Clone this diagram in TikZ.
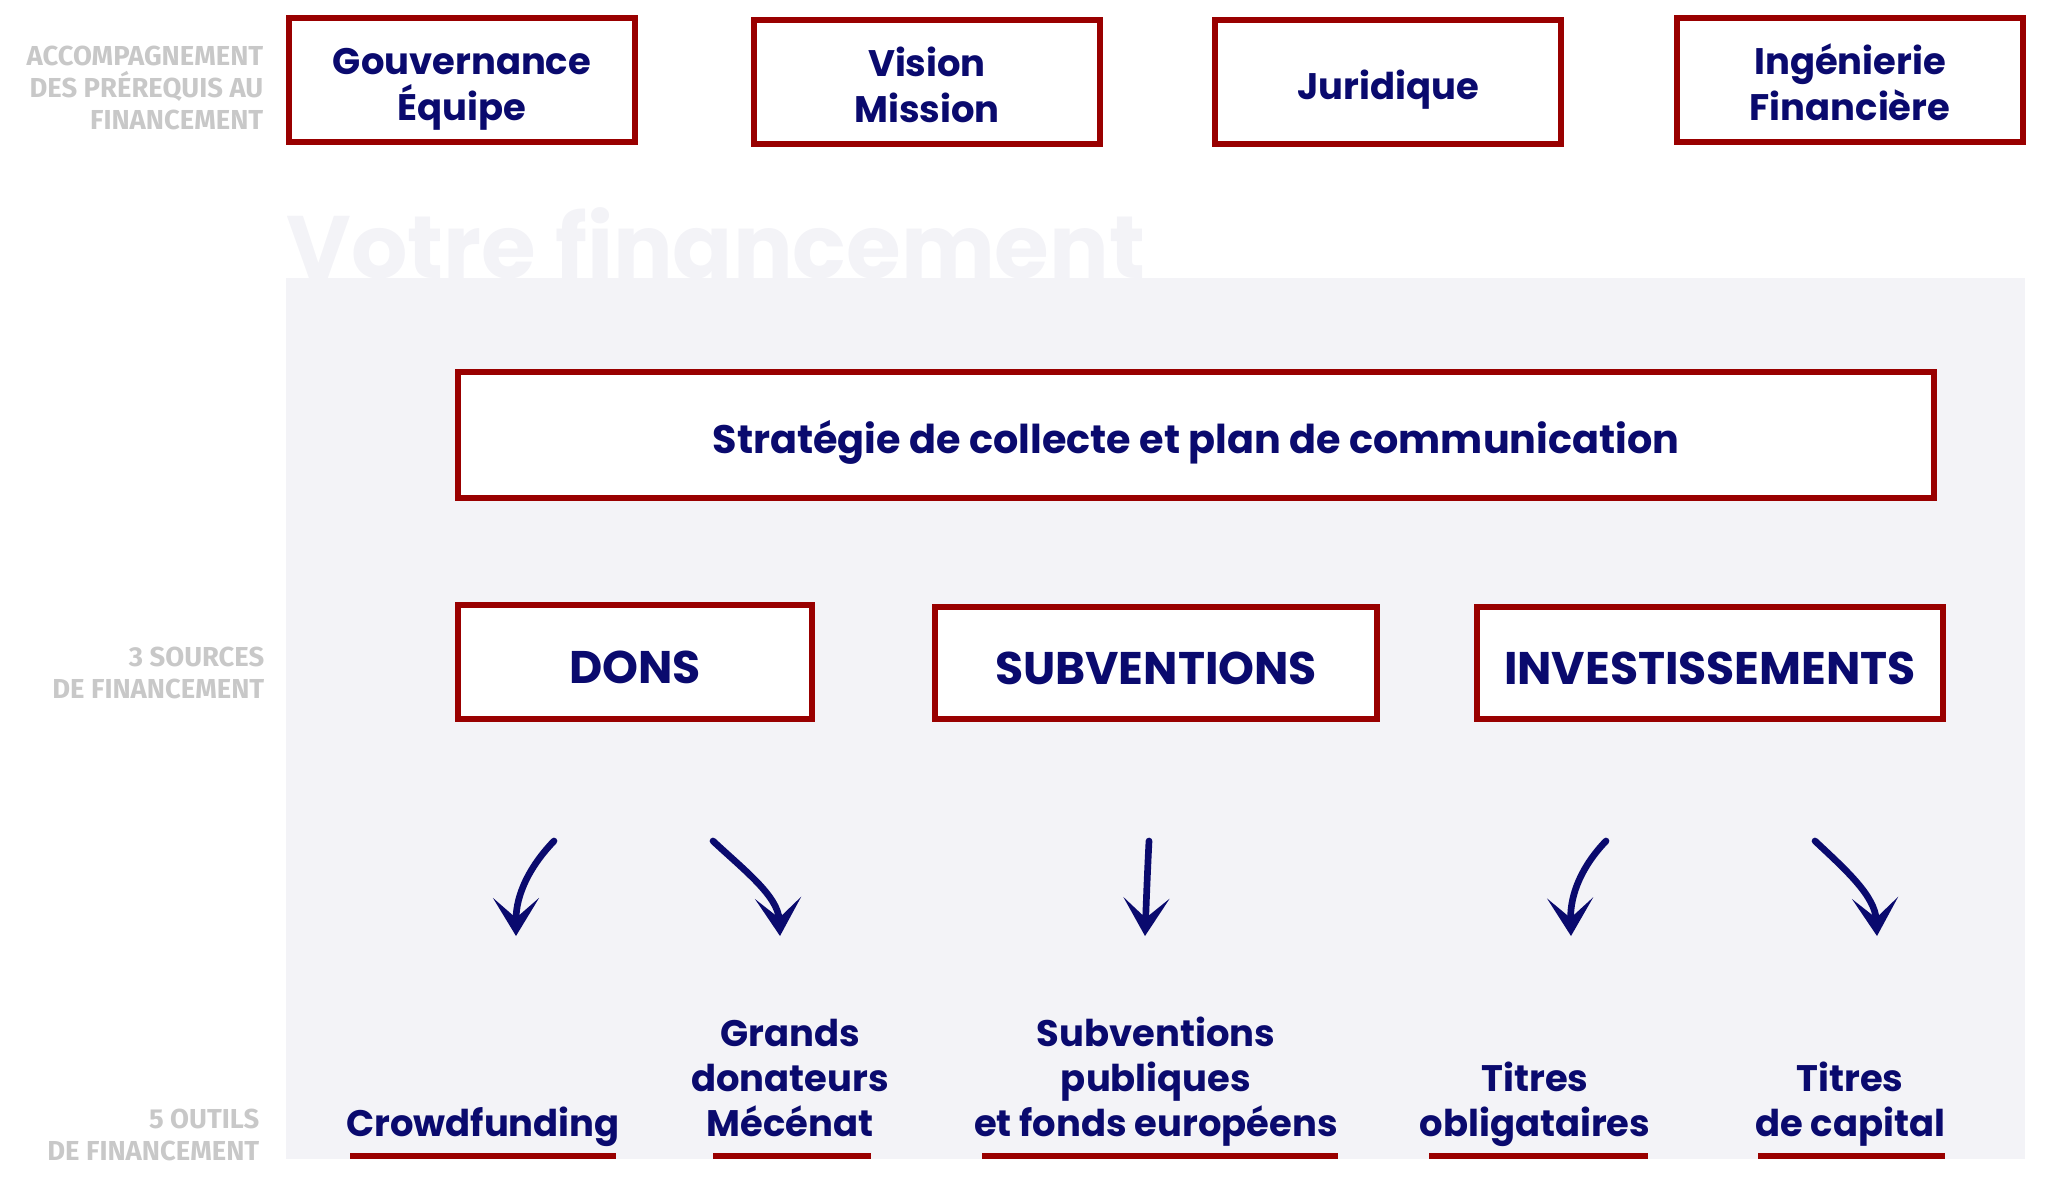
\documentclass[tikz,border=0pt]{standalone}
\usepackage{fontspec}
\setmainfont{Poppins}
\newfontfamily\sidefont{Fira Sans}
\usetikzlibrary{arrows.meta, positioning, calc}

\definecolor{navy}{RGB}{10,10,110}
\definecolor{darkred}{RGB}{153,0,0}
\definecolor{panelbg}{RGB}{243,243,247}
\definecolor{sidegray}{RGB}{200,200,200}

\begin{document}
\begin{tikzpicture}[x=0.01cm, y=-0.01cm,
    box/.style={draw=darkred, line width=1.7pt, fill=white, text=navy, align=center, inner sep=0pt,
        font=\bfseries\fontsize{10.5}{13}\selectfont,
        execute at begin node={\rule{0pt}{#1}},
        execute at end node={\rule[-0.28em]{0pt}{0pt}}},
    box/.default=1.22em,
    source/.style={box, font=\bfseries\fontsize{13}{15}\selectfont},
    side/.style={text=sidegray, align=right, anchor=east, inner sep=0pt,
        font=\sidefont\bfseries\fontsize{7.8}{9.1}\selectfont},
    tool/.style={text=navy, align=center, anchor=south, inner sep=0pt, text depth=0.22em,
        font=\bfseries\fontsize{10.5}{12.8}\selectfont},
    flow/.style={navy, line width=1.9pt, line cap=round,
        -{Stealth[length=0.38cm, width=0.46cm, inset=0.2cm]}}]

\useasboundingbox (0,0) rectangle (2048,1182);

% panel
\fill[panelbg] (286,278) rectangle (2025,1159);
\node[anchor=base west, inner sep=0pt, text=panelbg,
    font=\bfseries\fontsize{25.2}{30}\selectfont] (title) at (286,278) {Votre financement};

% side labels
\node[side] (sidetop) at (264,88) {ACCOMPAGNEMENT\\DES PRÉREQUIS AU\\FINANCEMENT};
\node[side] (sidemid) at (265,673) {3 SOURCES\\DE FINANCEMENT};
\node[side] (sidebot) at (260,1135) {5 OUTILS\\DE FINANCEMENT};

% prerequisites
\node[box=2.46em, minimum width=3.45cm, minimum height=1.24cm] (gouv) at (462,80) {Gouvernance\\Équipe};
\node[box=2.46em, minimum width=3.45cm, minimum height=1.23cm] (vision) at (927,82) {Vision\\Mission};
\node[box, minimum width=3.45cm, minimum height=1.23cm] (jur) at (1388,82) {Juridique};
\node[box=2.46em, minimum width=3.45cm, minimum height=1.24cm] (inge) at (1850,80) {Ingénierie\\Financière};

% strategy
\node[box, minimum width=14.75cm, minimum height=1.25cm, font=\bfseries\fontsize{11.3}{13}\selectfont]
    (strat) at (1196,435) {Stratégie de collecte et plan de communication};

% sources
\node[source, minimum width=3.53cm, minimum height=1.13cm] (dons) at (635,662) {DONS};
\node[source, minimum width=4.42cm, minimum height=1.11cm] (subv) at (1156,663) {SUBVENTIONS};
\node[source, minimum width=4.65cm, minimum height=1.11cm] (invest) at (1710,663) {INVESTISSEMENTS};

% tools
\node[tool] (crowd) at (483,1145) {Crowdfunding};
\node[tool] (mecenat) at (790,1145) {Grands\\donateurs\\Mécénat};
\node[tool] (public) at (1156,1145) {Subventions\\publiques\\et fonds européens};
\node[tool] (oblig) at (1535,1145) {Titres\\obligataires};
\node[tool] (capital) at (1850,1145) {Titres\\de capital};

\foreach \xa/\xb in {350/616, 713/871, 982/1338, 1429/1648, 1758/1945}
    \fill[darkred] (\xa,1153) rectangle (\xb,1159);

% arrows
\coordinate (f1) at (554,841); \coordinate (t1) at (516,936);
\coordinate (f2) at (713,841); \coordinate (t2) at (780,936);
\coordinate (f3) at (1149,841); \coordinate (t3) at (1145,936);
\coordinate (f4) at (1606,841); \coordinate (t4) at (1571,936);
\coordinate (f5) at (1815,841); \coordinate (t5) at (1877,936);
\draw[flow] (f1) .. controls (530,866) and (516,894) .. (t1);
\draw[flow] (f2) .. controls (744,870) and (778,896) .. (t2);
\draw[flow] (f3) .. controls (1147,880) and (1146,910) .. (t3);
\draw[flow] (f4) .. controls (1582,866) and (1570,894) .. (t4);
\draw[flow] (f5) .. controls (1846,870) and (1875,896) .. (t5);
\end{tikzpicture}
\end{document}
